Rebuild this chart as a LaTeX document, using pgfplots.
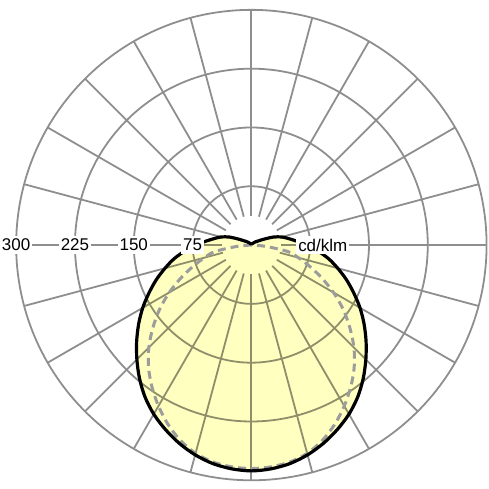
\documentclass[border=0pt]{standalone}
\usepackage{fontspec}
\setmainfont{Liberation Sans}
\usepackage{pgfplots}
\pgfplotsset{compat=1.18}

\definecolor{gridgray}{HTML}{8E8E8E}
\definecolor{dashgray}{HTML}{9C9C9C}
\definecolor{lightyellow}{HTML}{FFFFC0}

\tikzset{lbl/.style={fill=white, inner xsep=2bp, inner ysep=3bp,
                     font=\fontsize{17bp}{20bp}\selectfont}}

% luminous intensity, cd/klm; angle = polar angle (270 -/+ gamma)
% C0-C180 plane (solid)
\pgfplotstableread{
ang I
90  0
105 1
115 2
130 3
140 6
145 8
150 11
155 18
160 30
165 40
170 48
175 58
180 71
185 85
190 100
195 114
200 129
205 144
210 160
215 175.5
220 191
225 206.5
230 222
235 236.5
240 249
245 259.5
250 269
255 277
260 283
265 286.5
270 288
275 286.5
280 283
285 277
290 269
295 259.5
300 249
305 236.5
310 222
315 206.5
320 191
325 175.5
330 160
335 144
340 129
345 114
350 100
355 85
360 71
365 58
370 48
375 40
380 30
385 18
390 11
395 8
400 6
410 3
425 2
435 1
450 0
}\planeA

% C90-C270 plane (dashed)
\pgfplotstableread{
ang I
180 0
185 18
190 47
195 62
200 79
205 99
210 121
215 143
220 164
225 185
230 204
235 221
240 237
245 252
250 265
255 275
260 281
265 284
270 285
275 284
280 281
285 275
290 265
295 252
300 237
305 221
310 204
315 185
320 164
325 143
330 121
335 99
340 79
345 62
350 47
355 18
360 0
}\planeB

\begin{document}
\begin{tikzpicture}
\begin{axis}[
    width=489bp, height=489bp,
    scale only axis,
    hide axis,
    clip=false,
    xmin=-319.6, xmax=303.1,
    ymin=-310.1, ymax=312.6,
]
\path (rel axis cs:0,0) rectangle (rel axis cs:1,1);

% grid circles
\draw[gridgray, line width=1.8bp] (axis cs:0,0) circle[radius=75];
\draw[gridgray, line width=1.8bp] (axis cs:0,0) circle[radius=150];
\draw[gridgray, line width=1.8bp] (axis cs:0,0) circle[radius=225];
\draw[gridgray, line width=1.8bp] (axis cs:0,0) circle[radius=300];

% radial lines every 15 degrees
\pgfplotsinvokeforeach{0,15,...,345}{
  \addplot[gridgray, line width=1.8bp, data cs=polar, forget plot]
    coordinates {(#1,37.5) (#1,300)};
}

% fill under the solid curve
\addplot[draw=none, fill=lightyellow, blend mode=multiply, data cs=polar, forget plot]
  table[x=ang, y=I] {\planeA} -- cycle;

% dashed plane
\addplot[dashgray, line width=3bp, dash pattern=on 8bp off 5bp, data cs=polar, smooth, forget plot]
  table[x=ang, y=I] {\planeB};

% solid plane
\addplot[black, line width=3.2bp, data cs=polar, smooth, forget plot]
  table[x=ang, y=I] {\planeA};

% labels on the horizontal axis
\node[lbl] at (axis cs:-300,0) {300};
\node[lbl] at (axis cs:-225,0) {225};
\node[lbl] at (axis cs:-150,0) {150};
\node[lbl] at (axis cs:-75,0) {75};
\node[lbl, anchor=west] at (axis cs:57,0) {cd/klm\hspace{8bp}};
\end{axis}
\end{tikzpicture}
\end{document}
